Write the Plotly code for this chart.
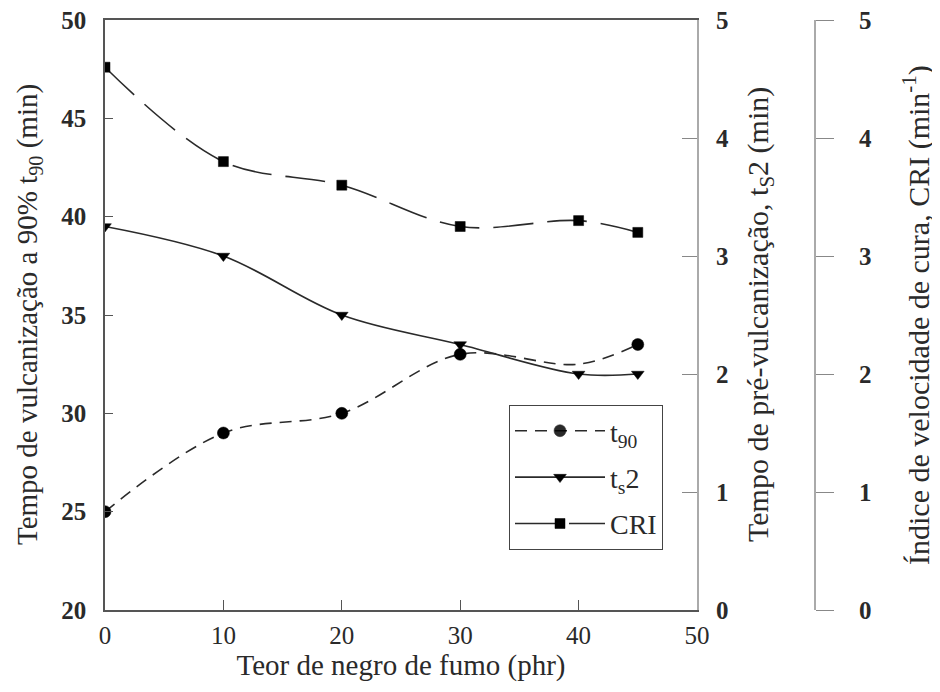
import plotly.graph_objects as go

teor = [0, 10, 20, 30, 40, 45]
t90 = [25.0, 29.0, 30.0, 33.0, 32.5, 33.5]
t90_marker_opacity = [1, 1, 1, 1, 0, 1]
ts2 = [3.25, 3.0, 2.5, 2.25, 2.0, 2.0]
cri = [4.6, 3.8, 3.6, 3.25, 3.3, 3.2]

FONT = "Liberation Serif"
TXT = "#2a2a2a"
LINE = "#2a2a2a"
fig = go.Figure()
fig.add_trace(go.Scatter(x=teor, y=t90, mode="lines+markers", name="t<sub>90</sub>",
                         legendgroup="a",
                         line=dict(color=LINE, width=1.6, dash="12px,8px", shape="spline"),
                         marker=dict(symbol="circle", size=12, color="#000000",
                                     opacity=t90_marker_opacity,
                                     line=dict(width=0.5, color="#000000")),
                         yaxis="y"))
fig.add_trace(go.Scatter(x=teor, y=ts2, mode="lines+markers", name="t<sub>s</sub>2",
                         legendgroup="b",
                         line=dict(color=LINE, width=1.6, shape="spline"),
                         marker=dict(symbol="triangle-down", size=11, color="#000000",
                                     line=dict(width=0.5, color="#000000")),
                         yaxis="y2"))
fig.add_trace(go.Scatter(x=teor, y=cri, mode="lines+markers", name="CRI",
                         legendgroup="c",
                         line=dict(color=LINE, width=1.6, dash="40px,14px", shape="spline"),
                         marker=dict(symbol="square", size=10, color="#000000",
                                     line=dict(width=0.5, color="#000000")),
                         yaxis="y3"))

# page offset of 8px (body margin)
FW, FH = 930, 676
L, T = 97, 12
PW = 795.0


def px(page_x):
    return (page_x - 105) / PW


yt_font = dict(family=FONT, size=25, color=TXT, weight="bold")
fig.update_layout(
    width=FW, height=FH,
    margin=dict(l=L, r=FW - L - PW, t=T, b=FH - T - 590, autoexpand=False),
    paper_bgcolor="white", plot_bgcolor="white",
    font=dict(family=FONT, size=24, color=TXT),
    showlegend=True,
    legend=dict(x=px(509), y=(602 - 397) / 590.0, xanchor="left", yanchor="top",
                bordercolor="#444", borderwidth=1, bgcolor="white",
                font=dict(family=FONT, size=28, color=TXT),
                itemwidth=90, tracegroupgap=7),
    xaxis=dict(domain=[0, 592 / PW], range=[0, 50], dtick=10, showgrid=False, zeroline=False,
               showline=True, linecolor="#555", linewidth=1.5, mirror=True,
               ticks="inside", ticklen=10, tickcolor="#555", ticklabelstandoff=2,
               ticklabeloverflow="allow",
               tickfont=dict(family=FONT, size=25, color=TXT),
               title=dict(text="Teor de negro de fumo (phr)",
                          font=dict(family=FONT, size=29, color=TXT), standoff=4)),
    yaxis=dict(range=[20, 50], dtick=5, showgrid=False, zeroline=False,
               showline=True, linecolor="#555", linewidth=1.5,
               ticks="inside", ticklen=8, tickcolor="#555", ticklabelstandoff=12,
               ticklabeloverflow="allow", tickfont=yt_font),
    yaxis2=dict(range=[0, 5], dtick=1, overlaying="y", side="right", anchor="x",
                showgrid=False, zeroline=False, showline=True, linecolor="#aaa", linewidth=2,
                ticks="inside", ticklen=15, tickcolor="#888", ticklabelstandoff=12,
                ticklabeloverflow="allow", tickfont=yt_font),
    yaxis3=dict(range=[0, 5], dtick=1, overlaying="y", side="right", anchor="free",
                position=px(815),
                showgrid=False, zeroline=False, showline=True, linecolor="#aaa", linewidth=2,
                ticks="outside", ticklen=18, tickcolor="#888", ticklabelstandoff=20,
                ticklabeloverflow="allow", tickfont=yt_font),
)

titles = [
    ("Tempo de vulcanização a 90% t<sub>90</sub> (min)", 29, 29),
    ("Tempo de pré-vulcanização, t<sub>S</sub>2 (min)", 760, 30),
    ("Índice de velocidade de cura, CRI (min<sup>-1</sup>)", 916, 30),
]
for text, cx, size in titles:
    fig.add_annotation(text=text, xref="paper", yref="paper", x=px(cx), y=0.5,
                       xanchor="center", yanchor="middle", textangle=-90, showarrow=False,
                       font=dict(family=FONT, size=size, color=TXT))

fig.write_html("out.html")
